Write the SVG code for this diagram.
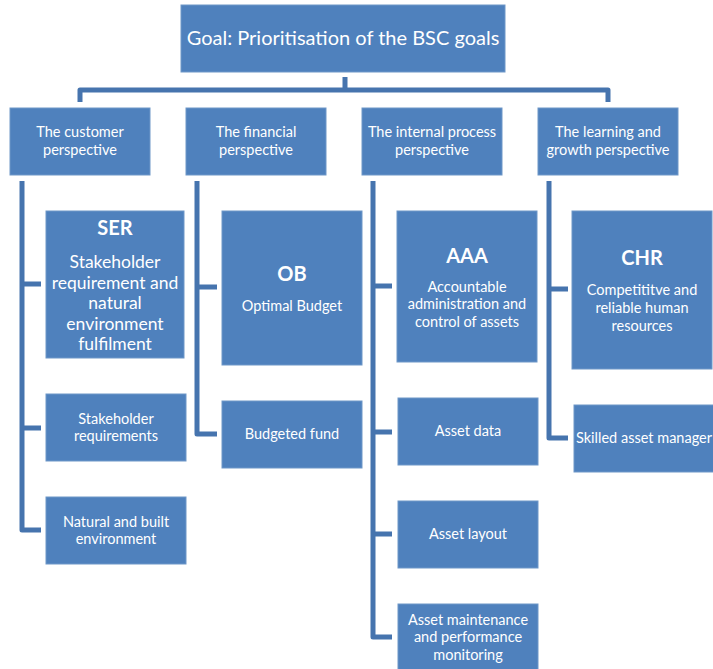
<svg xmlns="http://www.w3.org/2000/svg" width="713" height="669" viewBox="0 0 713 669">
<style>
.box{fill:#4F81BD;stroke:#6E97C8;stroke-width:1}
.t{font-family:Lato,"Open Sans","Liberation Sans",sans-serif;fill:#fff;text-anchor:middle;font-size:14.5px}
.b{font-weight:bold;font-size:20px}
.m{font-size:17.5px}
.big{font-size:20px}
.c{fill:none;stroke:#4674AE;stroke-width:5;stroke-linejoin:round}
</style>
<rect width="713" height="669" fill="#fff"/>
<g id="connectors">
<path class="c" d="M345 77V90M80 102V90H608V102"/>
<path class="c" d="M22 181V530H41M22 284H41M22 428H41"/>
<path class="c" d="M197 181V434H217M197 287H217"/>
<path class="c" d="M373 181V637H392M373 286H392M373 432H392M373 534H392"/>
<path class="c" d="M549 181V438H568M549 289H568"/>
</g>
<g id="goal"><rect class="box" x="181" y="5" width="324" height="67"/><text class="t big" x="343" y="45">Goal: Prioritisation of the BSC goals</text></g>
<g id="customer"><rect class="box" x="10" y="108" width="140" height="67"/><text class="t" x="80" y="137">The customer</text><text class="t" x="80" y="155">perspective</text></g>
<g id="financial"><rect class="box" x="186" y="108" width="140" height="67"/><text class="t" x="256" y="137">The financial</text><text class="t" x="256" y="155">perspective</text></g>
<g id="internal"><rect class="box" x="362" y="108" width="140" height="67"/><text class="t" x="432" y="137">The internal process</text><text class="t" x="432" y="155">perspective</text></g>
<g id="learning"><rect class="box" x="538" y="108" width="140" height="67"/><text class="t" x="608" y="137">The learning and</text><text class="t" x="608" y="155">growth perspective</text></g>
<g id="ser"><rect class="box" x="46" y="211" width="138" height="147"/><text class="t b" x="115" y="235">SER</text><text class="t m" x="115" y="268">Stakeholder</text><text class="t m" x="115" y="289">requirement and</text><text class="t m" x="115" y="309">natural</text><text class="t m" x="115" y="330">environment</text><text class="t m" x="115" y="350">fulfilment</text></g>
<g id="stakeholder"><rect class="box" x="46" y="394" width="140" height="67"/><text class="t" x="116" y="424">Stakeholder</text><text class="t" x="116" y="441">requirements</text></g>
<g id="natural"><rect class="box" x="46" y="497" width="140" height="67"/><text class="t" x="116" y="527">Natural and built</text><text class="t" x="116" y="544">environment</text></g>
<g id="ob"><rect class="box" x="222" y="211" width="140" height="154"/><text class="t b" x="292" y="281">OB</text><text class="t" x="292" y="311">Optimal Budget</text></g>
<g id="budgeted"><rect class="box" x="222" y="401" width="140" height="67"/><text class="t" x="292" y="439">Budgeted fund</text></g>
<g id="aaa"><rect class="box" x="397" y="211" width="140" height="151"/><text class="t b" x="467" y="263">AAA</text><text class="t" x="467" y="292">Accountable</text><text class="t" x="467" y="309">administration and</text><text class="t" x="467" y="327">control of assets</text></g>
<g id="assetdata"><rect class="box" x="398" y="398" width="140" height="67"/><text class="t" x="468" y="436">Asset data</text></g>
<g id="assetlayout"><rect class="box" x="398" y="501" width="140" height="67"/><text class="t" x="468" y="539">Asset layout</text></g>
<g id="assetmaint"><rect class="box" x="398" y="604" width="140" height="67"/><text class="t" x="468" y="625">Asset maintenance</text><text class="t" x="468" y="642">and performance</text><text class="t" x="468" y="660">monitoring</text></g>
<g id="chr"><rect class="box" x="572" y="211" width="140" height="158"/><text class="t b" x="642" y="265">CHR</text><text class="t" x="642" y="295">Competititve and</text><text class="t" x="642" y="313">reliable human</text><text class="t" x="642" y="331">resources</text></g>
<g id="skilled"><rect class="box" x="574" y="405" width="140" height="67"/><text class="t" x="644" y="443">Skilled asset manager</text></g>
</svg>
